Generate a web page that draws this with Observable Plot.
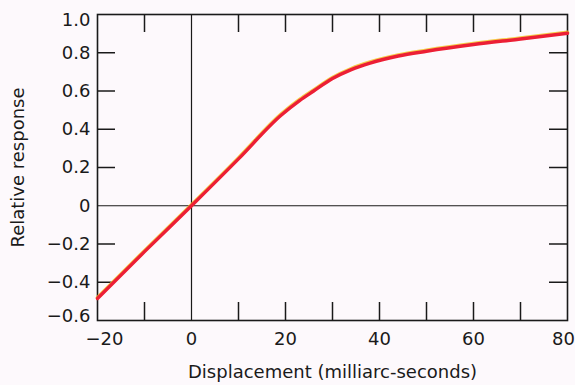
<!DOCTYPE html>
<html>
<head>
<meta charset="utf-8">
<script src="https://cdn.jsdelivr.net/npm/d3@7"></script>
<script src="https://cdn.jsdelivr.net/npm/@observablehq/plot@0.6"></script>
<style>
  html, body { margin: 0; padding: 0; background: #fdf9fc; }
  #chart svg { display: block; }
</style>
</head>
<body>
<div id="chart"></div>
<script>
// Response curve: displacement (milliarc-seconds) vs relative response
const displacement = [-20, -10, 0, 10, 19, 23, 26, 30, 34, 38, 44, 50, 60, 70, 80];
const response = [-0.485, -0.24, 0, 0.245, 0.472, 0.55, 0.6, 0.665, 0.712, 0.746, 0.783, 0.808, 0.843, 0.872, 0.902];

// Axis ticks and labels
const xTicks = [-10, 10, 20, 30, 40, 50, 60, 70];
const xLabels = [-20, 0, 20, 40, 60, 80];
const yTicks = [-0.4, -0.2, 0.2, 0.4, 0.6, 0.8];
const yLabels = [-0.6, -0.4, -0.2, 0, 0.2, 0.4, 0.6, 0.8, 1.0];

const W = 575, H = 385;
const mTop = 14, mRight = 8, mBottom = 65, mLeft = 97;
const innerH = H - mTop - mBottom;
const innerW = W - mLeft - mRight;
const tickLen = 18;
const fs = 18;

const curve = displacement.map((x, i) => ({x, y: response[i]}));
const fmtY = d => d === 0 ? "0" : d3.format(".1f")(d).replace("-", "\u2212");
const fmtX = d => String(d).replace("-", "\u2212");
const ink = "#1a1a1a";

const chart = Plot.plot({
  width: W,
  height: H,
  marginTop: mTop,
  marginRight: mRight,
  marginBottom: mBottom,
  marginLeft: mLeft,
  style: {fontFamily: "DejaVu Sans", fontSize: fs + "px", background: "transparent", color: ink},
  x: {domain: [-20, 80]},
  y: {domain: [-0.6, 1.0]},
  marks: [
    // zero lines
    Plot.ruleX([0], {stroke: ink, strokeWidth: 1.2}),
    Plot.ruleY([0], {stroke: ink, strokeWidth: 1.2}),
    // inward ticks on all four sides
    Plot.tickX(xTicks, {x: d => d, insetTop: innerH - tickLen, stroke: ink, strokeWidth: 1.5}),
    Plot.tickX(xTicks, {x: d => d, insetBottom: innerH - tickLen, stroke: ink, strokeWidth: 1.5}),
    Plot.tickY(yTicks, {y: d => d, insetRight: innerW - tickLen, stroke: ink, strokeWidth: 1.5}),
    Plot.tickY(yTicks, {y: d => d, insetLeft: innerW - tickLen, stroke: ink, strokeWidth: 1.5}),
    Plot.frame({stroke: ink, strokeWidth: 1.6}),
    // tick labels
    Plot.axisX(xLabels.filter(d => d > -20 && d < 80), {tickSize: 0, tickPadding: 12, tickFormat: fmtX, label: null, fontSize: fs}),
    Plot.axisX([-20], {tickSize: 0, tickPadding: 12, tickFormat: fmtX, label: null, fontSize: fs, dx: 7}),
    Plot.axisX([80], {tickSize: 0, tickPadding: 12, tickFormat: fmtX, label: null, fontSize: fs, dx: -4}),
    Plot.axisY(yLabels.filter(d => d > -0.6 && d < 1), {tickSize: 0, tickPadding: 7, tickFormat: fmtY, label: null, fontSize: fs}),
    Plot.axisY([1.0], {tickSize: 0, tickPadding: 7, tickFormat: fmtY, label: null, fontSize: fs, dy: 6}),
    Plot.axisY([-0.6], {tickSize: 0, tickPadding: 7, tickFormat: fmtY, label: null, fontSize: fs, dy: -4}),
    // axis titles
    Plot.text(["Displacement (milliarc-seconds)"], {
      frameAnchor: "bottom", dy: 57, text: d => d, fontSize: fs, fill: ink, lineAnchor: "bottom"
    }),
    Plot.text(["Relative response"], {
      frameAnchor: "left", textAnchor: "middle", dx: -79, rotate: -90, text: d => d, fontSize: fs, fill: ink
    }),
    // the response curve, with a faint yellow fringe beneath the red
    Plot.line(curve, {x: "x", y: "y", curve: "monotone-x", stroke: "#f2c21c", strokeWidth: 3.6, dy: -1, strokeOpacity: 0.8}),
    Plot.line(curve, {x: "x", y: "y", curve: "monotone-x", stroke: "#ec1f35", strokeWidth: 3.4})
  ]
});

document.getElementById("chart").appendChild(chart);
</script>
</body>
</html>
